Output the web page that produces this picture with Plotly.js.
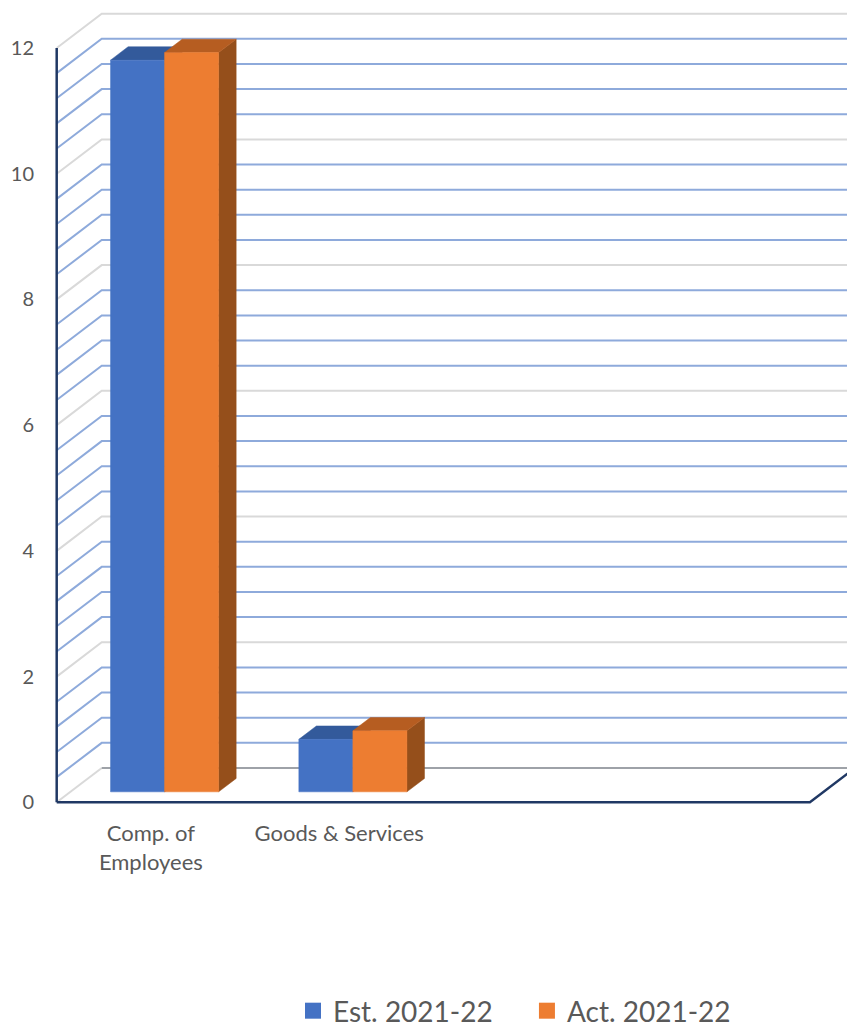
<!DOCTYPE html>
<html>
<head>
<meta charset="utf-8">
<script src="https://cdn.plot.ly/plotly-3.0.1.min.js"></script>
<style>html,body{margin:0;padding:0;background:#fff;}</style>
</head>
<body>
<div id="chart" style="width:847px;height:1028px;"></div>
<script>
// ---- data ----
const categories = ["Comp. of<br>Employees", "Goods & Services", "", ""];
const seriesNames = ["Est. 2021-22", "Act. 2021-22"];
const estValues = [11.64, 0.835, null, null];
const actValues = [11.76, 0.97, null, null];
const yTickValues = [0, 2, 4, 6, 8, 10, 12];
const yTickLabels = ["0", "2", "4", "6", "8", "10", "12"];
const axisMax = 12;
const majorStep = 2;
const minorStep = 0.4;

// ---- 3D look (oblique projection, in axis units) ----
const DX = 0.239, DY = 0.546;      // full wall depth
const barW = 0.287;                 // width of one bar
const dFront = 0.305, dBack = 0.695;
const xLeft = -0.5, xRight = categories.length - 0.5;

const seriesValues = [estValues, actValues];
const frontColors = ["#4472c4", "#ed7d31"];
const topColors = ["#335a9b", "#b65d21"];
const sideColors = ["#2c4f8a", "#954f1b"];

const traces = [];
function line(xs, ys, color, width) {
  traces.push({type: "scatter", mode: "lines", x: xs, y: ys, hoverinfo: "skip",
    showlegend: false, line: {color: color, width: width}});
}

// gridlines: side wall diagonal + back wall horizontal
const nMinor = Math.round(axisMax / minorStep);
const perMajor = Math.round(majorStep / minorStep);
const minX = [], minY = [], majX = [], majY = [];
for (let k = 1; k <= nMinor; k++) {
  const v = k * minorStep;
  const tx = k % perMajor === 0 ? majX : minX;
  const ty = k % perMajor === 0 ? majY : minY;
  tx.push(xLeft, xLeft + DX, xRight + DX, null);
  ty.push(v, v + DY, v + DY, null);
}
line(minX, minY, "#8eaadb", 2);
line(majX, majY, "#d9d9d9", 2);
// floor
line([xLeft, xLeft + DX], [0, DY], "#d9d9d9", 2);
line([xLeft + DX, xRight + DX], [DY, DY], "#9ea2a8", 2);
// axes
line([xLeft, xLeft], [0, axisMax], "#203864", 2.5);
line([xLeft, xRight, xRight + DX], [0, 0, DY], "#203864", 2.5);

// bars
function poly(pts, color) {
  const xs = [], ys = [];
  pts.forEach(p => { if (p) { xs.push(p[0]); ys.push(p[1]); } else { xs.push(null); ys.push(null); } });
  traces.push({type: "scatter", mode: "lines", x: xs, y: ys, fill: "toself", fillcolor: color,
    line: {color: color, width: 0.5}, hoverinfo: "skip", showlegend: false});
}
const bdx = (dBack - dFront) * DX, bdy = (dBack - dFront) * DY;
seriesValues.forEach((vals, s) => {
  const fr = [], tp = [], sd = [];
  vals.forEach((v, i) => {
    if (v === null) return;
    const xl = i + (s - 1) * barW + dFront * DX, xr = xl + barW;
    const yb = dFront * DY, yt = yb + v;
    sd.push([xr, yb], [xr + bdx, yb + bdy], [xr + bdx, yt + bdy], [xr, yt], [xr, yb], null);
    tp.push([xl, yt], [xr, yt], [xr + bdx, yt + bdy], [xl + bdx, yt + bdy], [xl, yt], null);
    fr.push([xl, yb], [xr, yb], [xr, yt], [xl, yt], [xl, yb], null);
  });
  poly(sd, sideColors[s]);
  poly(tp, topColors[s]);
  poly(fr, frontColors[s]);
});

// legend entries
const legendIds = ["legend", "legend2"];
seriesNames.forEach((n, s) => {
  traces.push({type: "scatter", mode: "markers", x: [null], y: [null], name: n,
    legend: legendIds[s],
    marker: {symbol: "square", size: 16, color: frontColors[s]}, hoverinfo: "skip"});
});

const font = {family: "Lato, Carlito, sans-serif", color: "#595959"};
const legendBase = {orientation: "h", xanchor: "left", y: -0.242, yanchor: "middle",
  font: Object.assign({size: 28}, font), bgcolor: "rgba(0,0,0,0)"};
const layout = {
  width: 847, height: 1028,
  margin: {l: 40, r: 0, t: 0, b: 214, pad: 0, autoexpand: false},
  paper_bgcolor: "#ffffff", plot_bgcolor: "#ffffff",
  showlegend: true,
  xaxis: {range: [-0.5887, 3.697], tickvals: categories.map((c, i) => i), ticktext: categories,
    showgrid: false, zeroline: false, showline: false, ticks: "", fixedrange: true,
    tickfont: Object.assign({size: 22}, font), ticklabelstandoff: 4},
  yaxis: {range: [-0.1861, 12.7633], tickvals: yTickValues, ticktext: yTickLabels,
    showgrid: false, zeroline: false, showline: false, ticks: "", fixedrange: true,
    tickfont: Object.assign({size: 20}, font), ticklabelstandoff: 5},
  legend: Object.assign({}, legendBase, {x: 0.3135}),
  legend2: Object.assign({}, legendBase, {x: 0.6034})
};
Plotly.newPlot("chart", traces, layout, {displayModeBar: false, staticPlot: true});
</script>
</body>
</html>
